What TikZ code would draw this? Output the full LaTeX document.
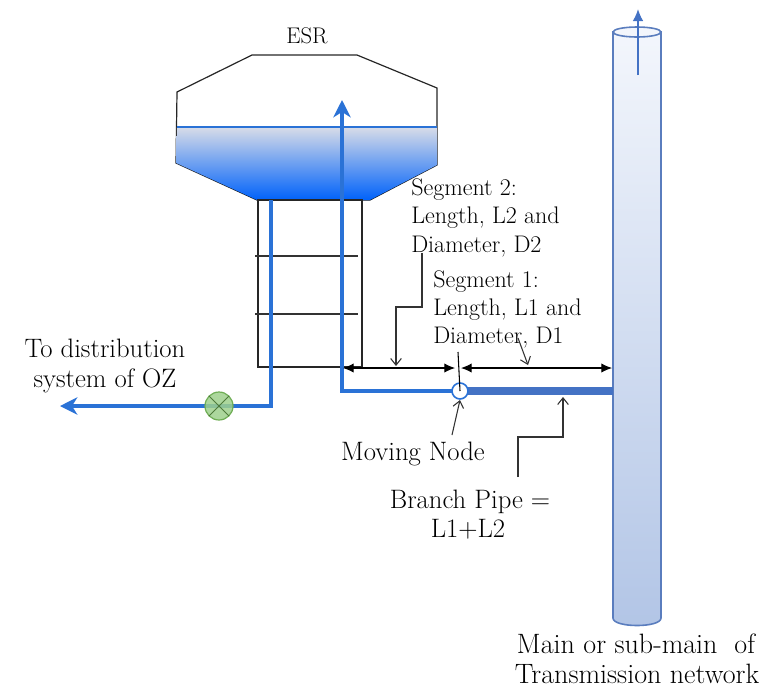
\documentclass[tikz,border=0pt]{standalone}
\usetikzlibrary{arrows.meta}
\definecolor{pipeblue}{HTML}{2A72D6}
\definecolor{branchblue}{HTML}{4472C4}
\definecolor{mainedge}{HTML}{5A7DBE}
\definecolor{maintop}{HTML}{F3F6FC}
\definecolor{mainbot}{HTML}{B2C5E6}
\definecolor{watertop}{HTML}{D8DCE8}
\definecolor{waterbot}{HTML}{0062FA}
\definecolor{valvefill}{HTML}{9DD08C}
\definecolor{valveedge}{HTML}{6FAE55}
\begin{document}
\begin{tikzpicture}[x=0.75pt,y=-0.75pt,
  outline/.style={draw=black!85,line width=0.9pt},
  pipe/.style={draw=pipeblue,line width=2.4pt},
  pipehead/.style={-{Stealth[length=13pt,width=13pt,inset=4pt]}},
  dimline/.style={draw=black,line width=0.8pt,{Latex[length=8pt,width=7pt]}-{Latex[length=8pt,width=7pt]}},
  leader/.style={draw=black!80,line width=0.8pt,-{Straight Barb[length=5pt,width=8pt]}},
  lbl/.style={inner sep=0pt,font=\fontsize{20}{24}\selectfont},
  seglbl/.style={inner sep=0pt,font=\fontsize{18}{22}\selectfont},
]
\useasboundingbox (0,0) rectangle (777,690);

% ---------- elevated storage reservoir ----------
\coordinate (t1) at (252,55);
\coordinate (t2) at (357,55);
\coordinate (t3) at (437,88);
\coordinate (t4) at (437,165);
\coordinate (t5) at (370,200);
\coordinate (t6) at (257,200);
\coordinate (t7) at (176,163);
\coordinate (t8) at (177,92);
\coordinate (wl) at (177,127);
\coordinate (wr) at (437,127);
\draw[outline] (t1)--(t2)--(t3)--(t4)--(t5)--(t6)--(t7)--(t8)--cycle;
\fill[top color=watertop,bottom color=waterbot] (wl)--(wr)--(t4)--(t5)--(t6)--(t7)--cycle;
\draw[pipeblue,line width=1.2pt] (wl)--(wr);
\node[inner sep=0pt,font=\fontsize{17}{20}\selectfont,anchor=base] (esr) at (307,43) {ESR};

% staging
\draw[outline] (258,200) rectangle (362,367);
\coordinate (s1a) at (255,256); \coordinate (s1b) at (358,256);
\coordinate (s2a) at (255,314); \coordinate (s2b) at (358,314);
\draw[black!80,line width=0.8pt] (s1a)--(s1b);
\draw[black!80,line width=0.8pt] (s2a)--(s2b);

% ---------- main / sub-main of transmission network ----------
\path[top color=maintop,bottom color=mainbot,draw=mainedge,line width=1.2pt]
  (613,32) -- (613,618) .. controls (613,628) and (661,628) .. (661,618) -- (661,32) -- cycle;
\draw[mainedge,line width=1.2pt,fill=maintop] (637,32) ellipse [x radius=24,y radius=5];
\coordinate (mflowa) at (638,75);
\coordinate (mflowb) at (638,9);
\draw[branchblue,line width=1.2pt,-{Latex[length=9pt,width=8pt]}] (mflowa) -- (mflowb);

% ---------- pipes ----------
\node[circle,minimum size=12pt,inner sep=0pt] (mn) at (460,391) {};
\coordinate (junc) at (613,391);
\draw[branchblue,line width=6pt] (mn.center) -- (junc);
\coordinate (inlet) at (342,100);
\draw[pipe,pipehead] (mn.center) -| (inlet);
\node[circle,draw=pipeblue,line width=1.2pt,fill=white,minimum size=12pt,inner sep=0pt] at (mn) {};

\coordinate (tankout) at (271,200);
\coordinate (outlet) at (60,406);
\node[circle,minimum size=21pt,inner sep=0pt] (valve) at (219,406) {};
\draw[pipe,pipehead] (tankout) |- (outlet);
\node[circle,draw=valveedge,line width=0.9pt,fill=valvefill,fill opacity=0.85,minimum size=21pt,inner sep=0pt] at (valve) {};
\draw[valveedge!70!black,line width=0.7pt] (valve.north east)--(valve.south west) (valve.north west)--(valve.south east);

% ---------- dimensions ----------
\coordinate (d1l) at (343,368);
\coordinate (d1r) at (455,368);
\coordinate (d2l) at (461,368);
\coordinate (d2r) at (612,368);
\coordinate (tick) at (458,352);
\draw[dimline] (d1l)--(d1r);
\draw[dimline] (d2l)--(d2r);
\draw[black,line width=0.8pt] (tick)--(mn.center);

% ---------- labels ----------
\node[seglbl,anchor=base west] (s2l1) at (411,195) {Segment 2:};
\node[seglbl,anchor=base west] (s2l2) at (411,223) {Length, L2 and};
\node[seglbl,anchor=base west] (s2l3) at (411,252) {Diameter, D2};
\node[seglbl,anchor=base west] (s1l1) at (433,287) {Segment 1:};
\node[seglbl,anchor=base west] (s1l2) at (433,315) {Length, L1 and};
\node[seglbl,anchor=base west] (s1l3) at (433,343) {Diameter, D1};

\node[lbl,anchor=base] (ozl1) at (105,357) {To distribution};
\node[lbl,anchor=base] (ozl2) at (105,387) {system of OZ};
\node[lbl,anchor=base] (mnl) at (413,460) {Moving Node};
\node[lbl,anchor=base] (bpl1) at (470,508) {Branch Pipe =};
\node[lbl,anchor=base] (bpl2) at (468,537) {L1+L2};
\node[lbl,font=\fontsize{21}{25}\selectfont,anchor=base] (mainl1) at (636,653) {Main or sub-main\ \ of};
\node[lbl,font=\fontsize{21}{25}\selectfont,anchor=base] (mainl2) at (637,683) {Transmission network};

% leaders
\coordinate (ld2a) at (422,253);
\coordinate (ld2b) at (396,307);
\coordinate (ld2c) at (396,366);
\draw[leader] (ld2a) |- (ld2b) -- (ld2c);
\coordinate (ld1a) at (518,338);
\coordinate (ld1b) at (528,365);
\draw[leader] (ld1a) -- (ld1b);
\coordinate (lmna) at (452,435);
\coordinate (lmnb) at (460,400);
\draw[leader] (lmna) -- (lmnb);
\coordinate (lbpa) at (518,477);
\coordinate (lbpb) at (563,437);
\coordinate (lbpc) at (563,397);
\draw[leader] (lbpa) |- (lbpb) -- (lbpc);
\end{tikzpicture}
\end{document}
